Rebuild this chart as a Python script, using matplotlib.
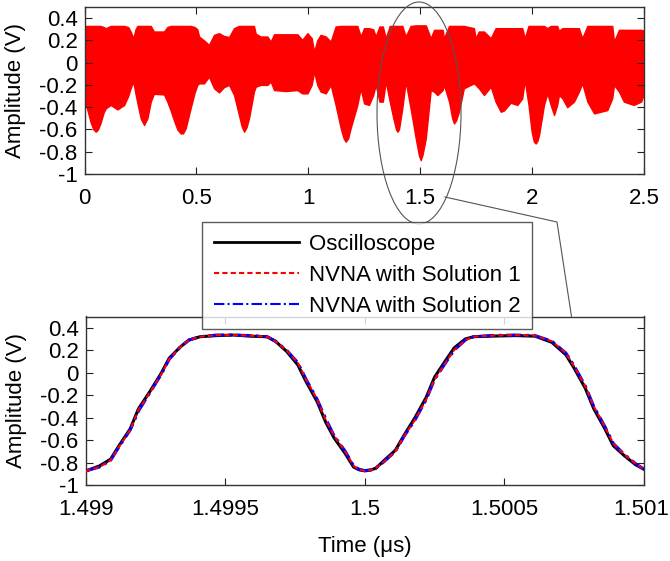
import matplotlib
matplotlib.use("Agg")
import matplotlib.pyplot as plt
import matplotlib.transforms as mtransforms
from matplotlib.patches import Ellipse
from matplotlib.lines import Line2D
from matplotlib.ticker import FuncFormatter

plt.rcParams['font.family'] = ['Liberation Sans', 'DejaVu Sans']
plt.rcParams['axes.unicode_minus'] = False

# ---------------- top panel: envelope of the measured signal ----------------
env_t = [0.000, 0.005, 0.015, 0.028, 0.040, 0.050, 0.060, 0.072, 0.085, 0.095,
         0.117, 0.147, 0.177, 0.195, 0.206,
         0.218, 0.228, 0.236, 0.251, 0.266, 0.281, 0.296, 0.310, 0.355, 0.370, 0.385, 0.400,
         0.415, 0.430, 0.440, 0.452, 0.474, 0.492, 0.504, 0.512, 0.534, 0.556, 0.579, 0.601, 0.623,
         0.646, 0.668, 0.690, 0.702, 0.713, 0.724, 0.735, 0.757, 0.765, 0.787, 0.817, 0.832,
         0.847, 0.899, 0.951, 0.973, 0.996, 1.015, 1.026, 1.040, 1.055, 1.078, 1.100, 1.122,
         1.145, 1.158, 1.167, 1.178, 1.189, 1.219, 1.234, 1.249, 1.271, 1.290, 1.301, 1.318,
         1.333, 1.346, 1.364, 1.380, 1.392, 1.398, 1.405, 1.420, 1.435, 1.457, 1.480, 1.494, 1.502, 1.510, 1.525,
         1.547, 1.562, 1.577, 1.600, 1.606, 1.629, 1.643, 1.651, 1.660, 1.673, 1.695, 1.740,
         1.748, 1.762, 1.785, 1.815, 1.837, 1.860, 1.874, 1.904, 1.934, 1.956,
         1.967, 1.984, 1.998, 2.008, 2.016, 2.024, 2.031, 2.053, 2.068, 2.083, 2.098, 2.112,
         2.120, 2.135, 2.157, 2.187, 2.209, 2.224, 2.247, 2.277, 2.336, 2.358,
         2.366, 2.388, 2.410, 2.454, 2.487, 2.496]
env_upper = [0.30, 0.33, 0.33, 0.33, 0.33, 0.33, 0.33, 0.33, 0.32, 0.31,
             0.33, 0.33, 0.33, 0.32, 0.28,
             0.22, 0.30, 0.33, 0.33, 0.33, 0.33, 0.33, 0.28, 0.28, 0.32, 0.33, 0.33,
             0.33, 0.33, 0.33, 0.33, 0.33, 0.32, 0.30, 0.235, 0.20, 0.16, 0.25, 0.265, 0.24,
             0.23, 0.31, 0.33, 0.33, 0.33, 0.33, 0.33, 0.33, 0.26, 0.235, 0.235, 0.19,
             0.255, 0.255, 0.255, 0.205, 0.265, 0.22, 0.10, 0.20, 0.25, 0.235, 0.19, 0.325,
             0.33, 0.33, 0.33, 0.33, 0.33, 0.33, 0.235, 0.31, 0.31, 0.30, 0.235, 0.325,
             0.325, 0.22, 0.33, 0.33, 0.33, 0.33, 0.33, 0.33, 0.235, 0.33, 0.335, 0.335, 0.335, 0.335, 0.335,
             0.22, 0.295, 0.295, 0.295, 0.22, 0.33, 0.33, 0.33, 0.33, 0.33, 0.33, 0.31,
             0.22, 0.28, 0.28, 0.22, 0.31, 0.31, 0.31, 0.31, 0.31, 0.31,
             0.22, 0.33, 0.33, 0.33, 0.33, 0.33, 0.33, 0.33, 0.31, 0.33, 0.33, 0.33,
             0.286, 0.31, 0.31, 0.31, 0.31, 0.22, 0.33, 0.33, 0.33, 0.33,
             0.19, 0.295, 0.295, 0.295, 0.295, 0.29]
env_lower = [-0.30, -0.37, -0.44, -0.54, -0.60, -0.62, -0.60, -0.54, -0.45, -0.41,
             -0.38, -0.42, -0.38, -0.30, -0.23,
             -0.17, -0.28, -0.36, -0.50, -0.56, -0.50, -0.35, -0.28, -0.285, -0.35, -0.43, -0.52,
             -0.60, -0.636, -0.635, -0.59, -0.41, -0.27, -0.20, -0.186, -0.186, -0.126, -0.23, -0.267, -0.22,
             -0.20, -0.29, -0.47, -0.57, -0.62, -0.58, -0.50, -0.26, -0.216, -0.20, -0.20, -0.17,
             -0.246, -0.255, -0.246, -0.276, -0.276, -0.20, -0.08, -0.20, -0.26, -0.276, -0.20, -0.38,
             -0.59, -0.68, -0.71, -0.68, -0.59, -0.38, -0.23, -0.366, -0.38, -0.29, -0.20, -0.35,
             -0.35, -0.17, -0.35, -0.50, -0.60, -0.62, -0.60, -0.41, -0.17, -0.41, -0.68, -0.83, -0.876, -0.83, -0.68,
             -0.246, -0.261, -0.291, -0.246, -0.20, -0.35, -0.50, -0.546, -0.52, -0.44, -0.23, -0.186,
             -0.20, -0.23, -0.291, -0.216, -0.351, -0.441, -0.43, -0.36, -0.38, -0.32,
             -0.156, -0.38, -0.62, -0.71, -0.726, -0.70, -0.65, -0.38, -0.276, -0.38, -0.47, -0.38,
             -0.29, -0.32, -0.40, -0.35, -0.26, -0.186, -0.35, -0.456, -0.426, -0.32,
             -0.20, -0.26, -0.35, -0.38, -0.35, -0.30]

# ---------------- bottom panel: zoom around 1.5 us ----------------
osc_t = [1.49900, 1.49905, 1.49909, 1.49912, 1.49916, 1.49919, 1.49923, 1.49927,
         1.49930, 1.49934, 1.49937, 1.49941, 1.49947, 1.49953, 1.49959, 1.49965,
         1.49968, 1.49972, 1.49976, 1.49979, 1.49983, 1.49986, 1.49989, 1.49993,
         1.49996, 1.49998, 1.50000, 1.50002, 1.50004, 1.50007, 1.50011, 1.50014, 1.50018, 1.50022,
         1.50025, 1.50029, 1.50032, 1.50036, 1.50039, 1.50045, 1.50054, 1.50061,
         1.50067, 1.50072, 1.50075, 1.50079, 1.50082, 1.50086, 1.50089, 1.50093,
         1.50097, 1.50100]
osc_v = [-0.877, -0.83, -0.77, -0.65, -0.50, -0.32, -0.17, -0.01,
         0.13, 0.23, 0.29, 0.32, 0.330, 0.335, 0.325, 0.32,
         0.28, 0.19, 0.07, -0.08, -0.26, -0.44, -0.58, -0.72,
         -0.84, -0.865, -0.874, -0.868, -0.85, -0.78, -0.69, -0.56, -0.40, -0.22,
         -0.04, 0.11, 0.22, 0.30, 0.32, 0.325, 0.330, 0.325,
         0.27, 0.16, 0.04, -0.14, -0.32, -0.50, -0.65, -0.74,
         -0.82, -0.86]
sol1_v = [-0.877, -0.84, -0.78, -0.66, -0.51, -0.33, -0.18, -0.02,
          0.12, 0.23, 0.29, 0.32, 0.335, 0.335, 0.33, 0.32,
          0.28, 0.20, 0.09, -0.06, -0.24, -0.42, -0.56, -0.70,
          -0.83, -0.862, -0.874, -0.868, -0.85, -0.79, -0.70, -0.57, -0.42, -0.24,
          -0.06, 0.09, 0.20, 0.29, 0.32, 0.33, 0.335, 0.33,
          0.28, 0.175, 0.055, -0.12, -0.30, -0.48, -0.63, -0.73,
          -0.81, -0.86]
sol2_v = [-0.875, -0.84, -0.78, -0.66, -0.51, -0.34, -0.18, -0.02,
          0.12, 0.23, 0.29, 0.32, 0.335, 0.335, 0.33, 0.32,
          0.28, 0.20, 0.09, -0.06, -0.24, -0.41, -0.56, -0.70,
          -0.83, -0.860, -0.872, -0.866, -0.85, -0.79, -0.70, -0.57, -0.42, -0.24,
          -0.06, 0.09, 0.20, 0.29, 0.32, 0.33, 0.335, 0.33,
          0.28, 0.175, 0.06, -0.12, -0.30, -0.48, -0.63, -0.73,
          -0.81, -0.86]

top_xticks = [0, 0.5, 1, 1.5, 2, 2.5]
bot_xticks = [1.499, 1.4995, 1.5, 1.5005, 1.501]
yticks = [-1, -0.8, -0.6, -0.4, -0.2, 0, 0.2, 0.4]
legend_labels = ['Oscilloscope', 'NVNA with Solution 1', 'NVNA with Solution 2']

W, H = 670, 561
fig = plt.figure(figsize=(W / 100, H / 100), dpi=100)

def px_rect(l, r, t, b):
    return [l / W, 1 - b / H, (r - l) / W, (b - t) / H]

ax1 = fig.add_axes(px_rect(84.5, 644, 7, 174))
ax2 = fig.add_axes(px_rect(85.5, 644, 316.5, 485))

FS = 16
for ax in (ax1, ax2):
    ax.set_ylim(-1, 0.5)
    ax.set_yticks(yticks)
    ax.yaxis.set_major_formatter(FuncFormatter(lambda v, p: '%g' % round(v, 4)))
    ax.tick_params(direction='in', top=True, right=True, length=5, width=0.8,
                   labelsize=FS, colors='#222222', labelcolor='black')
    ax.tick_params(axis='y', pad=5)
    ax.tick_params(axis='x', pad=10)
    for s in ax.spines.values():
        s.set_linewidth(1.0)
        s.set_color('#333333')
    ax.set_ylabel('Amplitude (V)', fontsize=FS)
    ax.yaxis.set_label_coords(-0.104, 0.5)

# top
ax1.fill_between(env_t, env_lower, env_upper, color='#ff0000', linewidth=1.0,
                 edgecolor='#ff0000', joinstyle='round')
ax1.set_xlim(0, 2.5)
ax1.set_xticks(top_xticks)
ax1.xaxis.set_major_formatter(FuncFormatter(lambda v, p: '%g' % v))

# bottom
ax2.plot(osc_t, osc_v, color='black', lw=2.2, solid_joinstyle='round', zorder=2)
ax2.plot(osc_t, sol2_v, color='#0000ff', lw=2.2, linestyle=(0, (5, 1.5, 1, 1.5)), zorder=3)
ax2.plot(osc_t, sol1_v, color='#ff0000', lw=1.5, linestyle=(0, (2.5, 1.5)), zorder=4)
ax2.set_xlim(1.499, 1.501)
ax2.set_xticks(bot_xticks)
ax2.xaxis.set_major_formatter(FuncFormatter(lambda v, p: '%g' % round(v, 5)))
ax2.set_xlabel('Time (\u03bcs)', fontsize=FS)
ax2.xaxis.set_label_coords(0.5, -0.30)

# keep the last bottom tick label inside the canvas
fig.canvas.draw()
last = ax2.get_xticklabels()[-1]
last.set_transform(last.get_transform() +
                   mtransforms.ScaledTranslation(-3 / 100, 0, fig.dpi_scale_trans))

handles = [Line2D([], [], color='black', lw=2.0),
           Line2D([], [], color='#ff0000', lw=1.5, linestyle=(0, (2.5, 1.5))),
           Line2D([], [], color='#0000ff', lw=1.5, linestyle=(0, (5, 1.5, 1, 1.5)))]
leg = fig.legend(handles, legend_labels, loc='upper left',
                 bbox_to_anchor=(202 / W, 1 - 222 / H), bbox_transform=fig.transFigure,
                 fontsize=FS, frameon=True, fancybox=False, borderaxespad=0,
                 handlelength=3.85, handletextpad=0.45, labelspacing=0.46,
                 borderpad=0.52)
leg.get_frame().set_edgecolor('#333333')
leg.get_frame().set_linewidth(1.0)
leg.set_zorder(10)

# ellipse + connector (figure pixel coordinates)
def fx(x):
    return x / W

def fy(y):
    return 1 - y / H

ell = Ellipse((fx(419), fy(113)), 84 / W, 222 / H, transform=fig.transFigure,
              fill=False, edgecolor='#555555', lw=0.8, zorder=5)
fig.add_artist(ell)
fig.add_artist(Line2D([fx(445), fx(557), fx(571.5)], [fy(197), fy(222), fy(316.5)],
                      transform=fig.transFigure, color='#555555', lw=0.8, zorder=5))

fig.savefig('out.png', dpi=100)
